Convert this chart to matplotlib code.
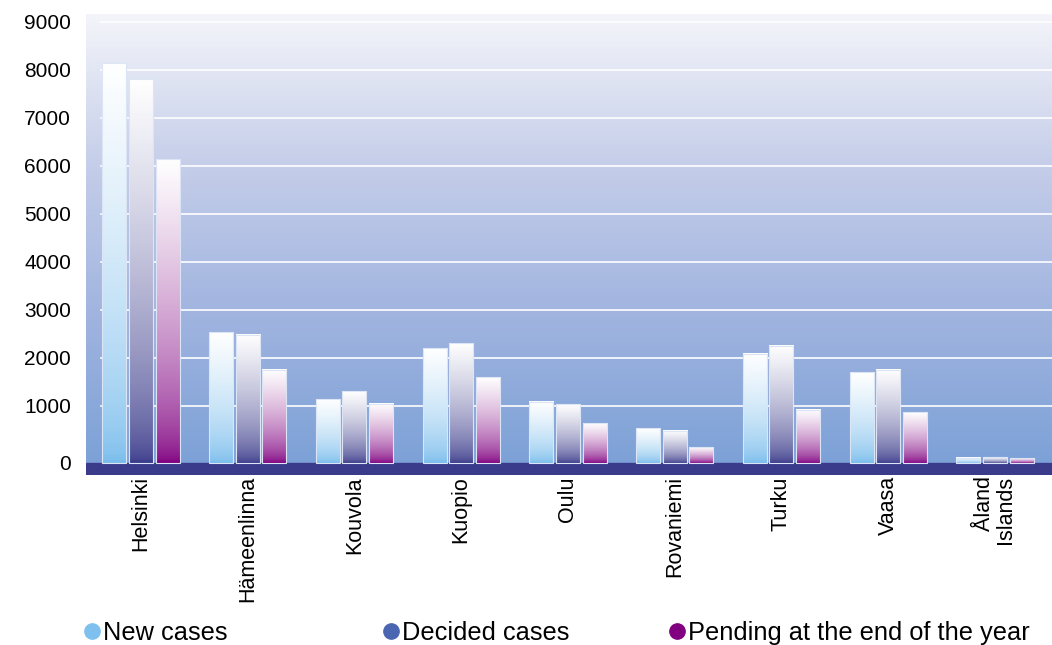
import numpy as np
import matplotlib
matplotlib.use('Agg')
import matplotlib.pyplot as plt
from matplotlib.colors import LinearSegmentedColormap, to_rgb
from matplotlib.lines import Line2D

courts = ['Helsinki', 'Hämeenlinna', 'Kouvola', 'Kuopio', 'Oulu',
          'Rovaniemi', 'Turku', 'Vaasa', 'Åland\nIslands']
new_cases = [8330, 2720, 1330, 2390, 1280, 720, 2280, 1890, 110]
decided_cases = [8000, 2670, 1500, 2500, 1220, 670, 2440, 1940, 120]
pending = [6330, 1940, 1230, 1790, 830, 330, 1110, 1060, 100]

series_names = ['New cases', 'Decided cases', 'Pending at the end of the year']
bar_colors = ['#78bcec', '#3c3c8c', '#800080']
legend_colors = ['#7ec0ee', '#4a66b0', '#800080']

plt.rcParams['font.family'] = ['Liberation Sans', 'DejaVu Sans']

fig = plt.figure(figsize=(10.52, 6.45), dpi=100)
ax = fig.add_axes([0.0817, 0.2636, 0.9183, 0.7147])

floor = -250   # bottom of the dark "floor" band
depth = 195    # the grid sits on the back wall, a bit above the bar floor

# background gradient
bg = LinearSegmentedColormap.from_list('bg', ['#7aa0d6', '#9fb3df', '#c4cde9', '#f4f5fa'])
ax.imshow(np.linspace(0, 1, 256).reshape(-1, 1), cmap=bg, origin='lower',
          extent=[0, 1, 0, 1], transform=ax.transAxes, aspect='auto', zorder=0)

for k in range(1, 10):
    ax.axhline(k * 1000 + depth, xmin=0.016, color='white', lw=1.2, zorder=1)

ax.axhspan(floor, 0, color='#3b3b8b', zorder=2)

# bars with a white-to-colour gradient
x = np.arange(len(courts))
width = 0.225
step = 0.25
t = np.linspace(0, 1, 128)[:, None]
for i, (vals, col) in enumerate(zip([new_cases, decided_cases, pending], bar_colors)):
    bars = ax.bar(x + (i - 1) * step, vals, width, color='none',
                  edgecolor='#dce5f5', lw=0.8, zorder=4)
    w = t ** 0.6
    grad = np.array(to_rgb(col)) * (1 - w) + w
    img = grad[:, None, :]
    for b in bars:
        ax.imshow(img, origin='lower', aspect='auto', zorder=3,
                  extent=[b.get_x(), b.get_x() + b.get_width(), 0, b.get_height()])

ax.set_xlim(-0.515, 8.534)
ax.set_ylim(floor, 9354)

ax.set_yticks([0] + [k * 1000 + depth for k in range(1, 10)])
ax.set_yticklabels(['0'] + [str(k * 1000) for k in range(1, 10)])
ax.tick_params(axis='y', length=0, pad=10.8, labelsize=15)
ax.set_xticks(x)
ax.set_xticklabels(courts, rotation=90, va='top', ha='center',
                   multialignment='right', linespacing=1.0)
ax.tick_params(axis='x', length=0, pad=1, labelsize=15.5)
for s in ax.spines.values():
    s.set_visible(False)

# legend entries placed one by one, as in the original layout
for name, col, xpos in zip(series_names, legend_colors, [0.0805, 0.3645, 0.6365]):
    h = Line2D([], [], marker='o', ls='', color=col, markersize=11)
    fig.legend([h], [name], loc='center left', bbox_to_anchor=(xpos, 0.019),
               frameon=False, handlelength=0.6, handletextpad=0.12, fontsize=18.3,
               borderpad=0, borderaxespad=0)

fig.savefig('out.png', dpi=100)
